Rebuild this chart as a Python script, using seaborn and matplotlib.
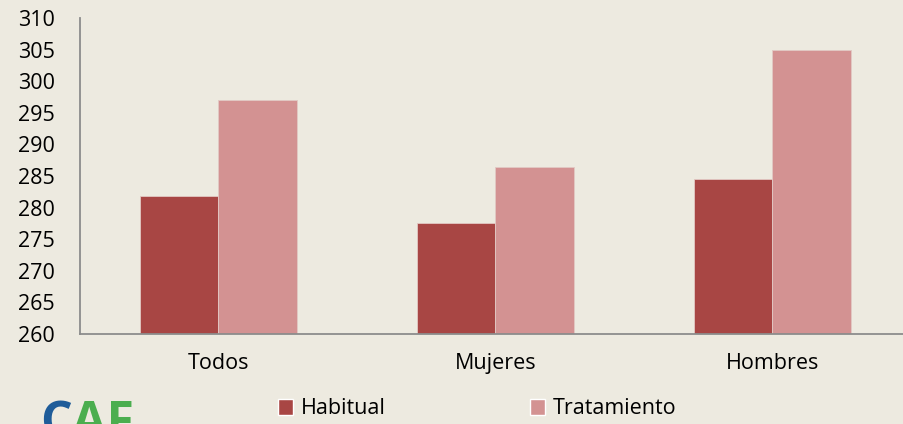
import pandas as pd
import seaborn as sns
import matplotlib.pyplot as plt
from matplotlib.patches import Patch

# Chart data
grupos = ['Todos', 'Mujeres', 'Hombres']
habitual = [281.8, 277.5, 284.5]
tratamiento = [297.0, 286.4, 305.0]
series = ['Habitual', 'Tratamiento']
colores = ['#A84644', '#D39292']
y_ticks = list(range(260, 311, 5))

BG = '#EDEAE0'

def build_frame():
    """ Long-format table for seaborn. """
    return pd.DataFrame({
        'grupo': grupos * 2,
        'serie': [series[0]] * 3 + [series[1]] * 3,
        'valor': habitual + tratamiento,
    })

def main():
    sns.set_style('white')
    plt.rcParams['font.family'] = ['Open Sans', 'DejaVu Sans']
    plt.rcParams['text.color'] = 'black'

    df = build_frame()
    fig = plt.figure(figsize=(9.04, 4.24), dpi=100, facecolor=BG)
    ax = fig.add_axes([80 / 904, (424 - 334) / 424, 831 / 904, 316 / 424])
    ax.set_facecolor(BG)

    sns.barplot(data=df, x='grupo', y='valor', hue='serie', order=grupos,
                hue_order=series, palette=colores, saturation=1, width=0.57,
                edgecolor='#E2C9C4', linewidth=0.6, ax=ax)

    ax.set_ylim(260, 310)
    ax.set_yticks(y_ticks)
    ax.tick_params(axis='y', labelsize=15.5, length=0, pad=18, labelcolor='black')
    ax.tick_params(axis='x', labelsize=15.5, length=0, pad=14, labelcolor='black')
    ax.set_xlabel('')
    ax.set_ylabel('')
    for s in ['top', 'right']:
        ax.spines[s].set_visible(False)
    for s in ['left', 'bottom']:
        ax.spines[s].set_color('#8C8C8C')
        ax.spines[s].set_linewidth(1.3)

    ax.get_legend().remove()
    handles = [Patch(facecolor=c, label=l) for c, l in zip(colores, series)]
    fig.legend(handles=handles, loc='center', bbox_to_anchor=(477 / 904, 1 - 409 / 424),
               ncol=2, frameon=False, fontsize=15.5, handlelength=0.7,
               handleheight=0.7, handletextpad=0.35, columnspacing=6.7)

    # partially visible logo at the bottom left
    fig.text(40 / 904, -0.06, 'C', color='#1F5C99', fontsize=36,
             fontweight='bold', va='bottom', ha='left')
    fig.text(72 / 904, -0.06, 'AF', color='#4BAE4F', fontsize=36,
             fontweight='bold', va='bottom', ha='left')

    fig.savefig('out.png', dpi=100, facecolor=BG)

if __name__ == "__main__":
    main()
